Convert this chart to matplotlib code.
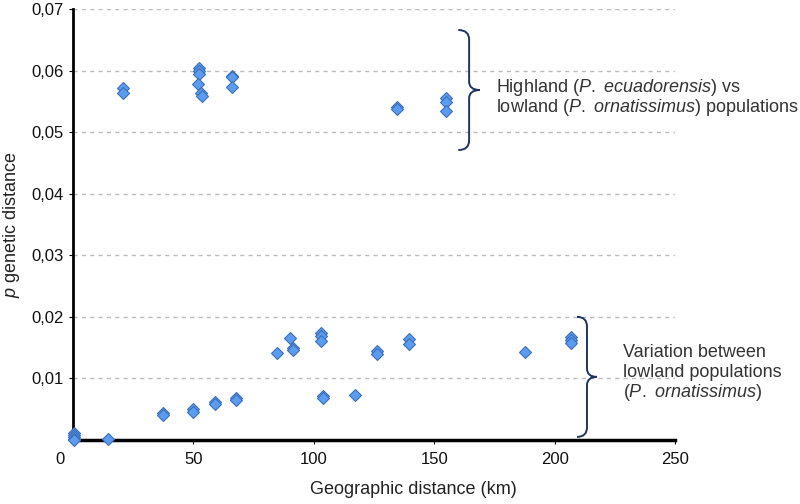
import matplotlib
matplotlib.use("Agg")
import matplotlib.pyplot as plt
import matplotlib.transforms as mtransforms
from matplotlib.path import Path
from matplotlib.patches import PathPatch

plt.rcParams['font.family'] = ['Liberation Sans', 'DejaVu Sans']
plt.rcParams['mathtext.fontset'] = 'custom'
plt.rcParams['mathtext.rm'] = 'Liberation Sans'
plt.rcParams['mathtext.it'] = 'Liberation Sans:italic'

# données : distance géographique (km) / distance p
highland_km = [20.9, 20.9, 52.4, 52.4, 52.4, 52.0, 53.0, 53.5,
               66.0, 66.0, 66.0, 134.4, 134.4, 154.8, 154.8, 154.8]
highland_p = [0.0571, 0.0564, 0.0605, 0.0600, 0.0594, 0.0579, 0.0563, 0.0558,
              0.0592, 0.0589, 0.0574, 0.0541, 0.0538, 0.0555, 0.0549, 0.0535]

lowland_km = [0.5, 0.5, 0.5, 0.5, 0.5, 14.4, 37.2, 37.2, 49.7, 49.7,
              59.0, 59.0, 67.7, 67.7, 84.6, 90.1, 91.2, 91.2,
              102.9, 102.9, 102.9, 104.0, 104.0, 117.1, 126.1, 126.1,
              139.7, 139.7, 187.7, 206.8, 206.8, 206.8]
lowland_p = [0.0012, 0.0008, 0.0005, 0.0002, 0.0000, 0.0002, 0.0044, 0.0041,
             0.0050, 0.0045, 0.0061, 0.0059, 0.0069, 0.0065, 0.0142, 0.0166,
             0.0149, 0.0146, 0.0173, 0.0169, 0.0161, 0.0071, 0.0068, 0.0073,
             0.0144, 0.0139, 0.0164, 0.0156, 0.0143, 0.0167, 0.0163, 0.0158]

xticks = [0, 50, 100, 150, 200, 250]
yticks = [0.01, 0.02, 0.03, 0.04, 0.05, 0.06, 0.07]
ytick_labels = ["0,01", "0,02", "0,03", "0,04", "0,05", "0,06", "0,07"]

# textes des annotations (une entrée par ligne)
haut_lignes = [r"Highland $\mathit{(P.}$ $\mathit{ecuadorensis)}$ vs",
               r"lowland ($\mathit{P.}$ $\mathit{ornatissimus}$) populations"]
bas_lignes = ["Variation between", "lowland populations",
              r"$\mathit{(P.}$ $\mathit{ornatissimus)}$"]


def accolade(ax, x0, x1, y0, y1):
    # accolade "}" dessinée en coordonnées des données
    xm = (x0 + x1) / 2
    ym = (y0 + y1) / 2
    h = y1 - y0
    pts = [(x0, y1), (xm, y1), (xm, y1 - 0.08 * h),
           (xm, ym + 0.07 * h),
           (xm, ym), (x1, ym),
           (xm, ym), (xm, ym - 0.07 * h),
           (xm, y0 + 0.08 * h),
           (xm, y0), (x0, y0)]
    codes = [Path.MOVETO, Path.CURVE3, Path.CURVE3,
             Path.LINETO,
             Path.CURVE3, Path.CURVE3,
             Path.CURVE3, Path.CURVE3,
             Path.LINETO,
             Path.CURVE3, Path.CURVE3]
    patch = PathPatch(Path(pts, codes), fill=False, edgecolor='#1f3560',
                      lw=1.4, clip_on=False)
    ax.add_patch(patch)


fig = plt.figure(figsize=(8, 5.04), dpi=100)
ax = fig.add_axes([0.09125, 0.127, 0.7525, 0.855])

for y in yticks:
    ax.axhline(y, color='#bbbbbb', lw=1, ls=(0, (3, 3)), zorder=0)

ax.plot(highland_km, highland_p, 'D', ms=6.5, mfc='#5b9cf0', mec='#3c6fb8',
        mew=0.8, zorder=3, clip_on=False)
ax.plot(lowland_km, lowland_p, 'D', ms=6.5, mfc='#5b9cf0', mec='#3c6fb8',
        mew=0.8, zorder=3, clip_on=False)

ax.set_xlim(0, 250)
ax.set_ylim(0, 0.07)
ax.set_xticks(xticks)
ax.set_xticklabels([str(t) for t in xticks])
ax.set_yticks(yticks)
ax.set_yticklabels(ytick_labels)
ax.tick_params(axis='both', labelsize=12, length=3, color='black', pad=4,
               labelcolor='#111111')
ax.tick_params(axis='x', pad=6)
# le "0" de l'axe x est décalé vers la gauche
lab0 = ax.get_xticklabels()[0]
lab0.set_transform(lab0.get_transform() +
                   mtransforms.ScaledTranslation(-0.13, 0, fig.dpi_scale_trans))

for s in ['top', 'right']:
    ax.spines[s].set_visible(False)
ax.spines['left'].set_linewidth(2)
ax.spines['bottom'].set_linewidth(2.5)

ax.set_xlabel("Geographic distance (km)", fontsize=13, color='#222222')
ax.xaxis.set_label_coords(0.566, -0.095)
ax.set_ylabel(r"$\mathit{p}$ genetic distance", fontsize=13, color='#222222')
ax.yaxis.set_label_coords(-0.085, 0.5)

accolade(ax, 160.0, 169.0, 0.0471, 0.0666)
accolade(ax, 209.3, 217.6, 0.0005, 0.0200)

for i, ligne in enumerate(haut_lignes):
    ax.text(175.8, 0.05718 - i * 0.00325, ligne, fontsize=13, color='#333333',
            va='center', ha='left', clip_on=False)
for i, ligne in enumerate(bas_lignes):
    ax.text(228.4, 0.01420 - i * 0.00325, ligne, fontsize=13, color='#333333',
            va='center', ha='left', clip_on=False)

fig.savefig("out.png", dpi=100)
